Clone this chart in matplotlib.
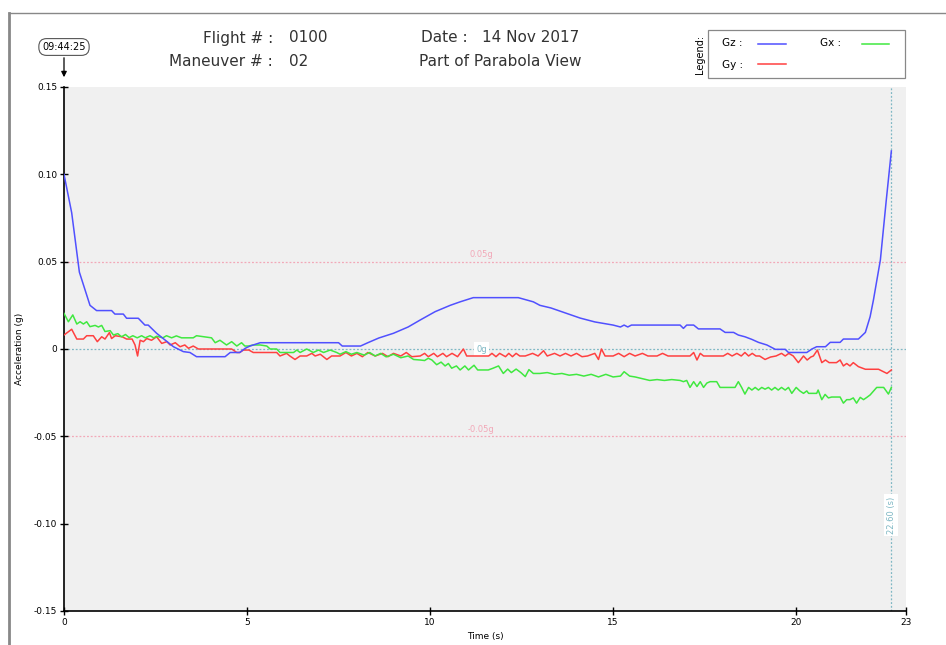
import matplotlib
matplotlib.use("Agg")
import matplotlib.pyplot as plt
from matplotlib.lines import Line2D
from matplotlib.patches import Rectangle

# --- data ------------------------------------------------------------------
gz_t = [0, 0.21, 0.42, 0.71, 0.89, 1.30, 1.39, 1.62, 1.71, 2.03, 2.21, 2.30, 2.53, 2.99,
        3.26, 3.44, 3.62, 4.40, 4.54, 4.80, 4.95, 5.08, 5.36, 7.50, 7.60, 8.10, 8.30, 8.60,
        9.00, 9.40, 9.73, 10.14, 10.55, 10.82, 11.18, 12.41, 12.82, 13.00, 13.30, 13.70,
        14.10, 14.50, 15.00, 15.20, 15.30, 15.40, 15.50, 15.70, 16.83, 16.92, 17.01, 17.20,
        17.33, 17.92, 18.06, 18.29, 18.42, 18.60, 18.79, 18.97, 19.20, 19.43, 19.70, 19.79,
        20.29, 20.43, 20.56, 20.80, 20.93, 21.20, 21.29, 21.70, 21.89, 22.02, 22.11, 22.30,
        22.46, 22.60]
gz_v = [0.100, 0.078, 0.044, 0.025, 0.022, 0.022, 0.020, 0.020, 0.0176, 0.0176, 0.0137,
        0.0137, 0.009, 0.0013, -0.0015, -0.002, -0.0044, -0.0044, -0.002, -0.002, 0.0004,
        0.0017, 0.0036, 0.0036, 0.0017, 0.0017, 0.0036, 0.0063, 0.009, 0.0126, 0.0166,
        0.0214, 0.025, 0.027, 0.0294, 0.0294, 0.027, 0.025, 0.0235, 0.0206, 0.0177, 0.0155,
        0.0137, 0.0126, 0.0137, 0.0126, 0.0137, 0.0137, 0.0137, 0.0118, 0.0137, 0.0137,
        0.0115, 0.0115, 0.0095, 0.0095, 0.008, 0.007, 0.0055, 0.0038, 0.0023, -0.0002,
        -0.0002, -0.002, -0.002, 0.0, 0.0013, 0.0013, 0.0038, 0.0038, 0.0057, 0.0057,
        0.0095, 0.0185, 0.028, 0.051, 0.085, 0.1134]

gy_t = [0, 0.21, 0.35, 0.53, 0.62, 0.80, 0.91, 1.03, 1.12, 1.24, 1.30, 1.40, 1.59, 1.71,
        1.86, 1.94, 2.01, 2.08, 2.17, 2.26, 2.39, 2.53, 2.67, 2.81, 2.90, 3.04, 3.17, 3.30,
        3.40, 3.53, 3.67, 4.58, 4.72, 4.80, 4.90, 5.05, 5.17, 5.81, 5.90, 6.08, 6.17, 6.31,
        6.45, 6.63, 6.77, 6.86, 7.00, 7.18, 7.31, 7.54, 7.70, 7.85, 8.00, 8.15, 8.30, 8.50,
        8.70, 8.85, 9.00, 9.20, 9.35, 9.50, 9.73, 9.85, 9.95, 10.10, 10.20, 10.35, 10.45,
        10.60, 10.75, 10.91, 11.00, 11.60, 11.69, 11.80, 11.90, 12.06, 12.15, 12.25, 12.35,
        12.45, 12.60, 12.80, 12.95, 13.10, 13.20, 13.40, 13.55, 13.70, 13.85, 14.00, 14.15,
        14.30, 14.50, 14.60, 14.68, 14.78, 15.00, 15.15, 15.30, 15.45, 15.60, 15.80, 15.95,
        16.20, 16.35, 16.50, 16.83, 17.10, 17.20, 17.29, 17.38, 17.47, 18.01, 18.13, 18.25,
        18.38, 18.50, 18.60, 18.70, 18.80, 18.90, 19.00, 19.15, 19.30, 19.45, 19.60, 19.70,
        19.80, 19.92, 20.06, 20.20, 20.30, 20.40, 20.47, 20.58, 20.70, 20.80, 20.90, 21.10,
        21.20, 21.29, 21.38, 21.47, 21.56, 21.70, 21.89, 22.25, 22.48, 22.60]
gy_v = [0.008, 0.0113, 0.0057, 0.0057, 0.0076, 0.0076, 0.0042, 0.007, 0.0057, 0.0094,
        0.006, 0.0076, 0.007, 0.0057, 0.0057, 0.0023, -0.004, 0.005, 0.0042, 0.006, 0.005,
        0.007, 0.0032, 0.0042, 0.0023, 0.0036, 0.0013, 0.0023, 0.0004, 0.0017, 0.0, 0.0,
        -0.002, -0.002, -0.0006, -0.0006, -0.002, -0.002, -0.004, -0.0025, -0.004, -0.006,
        -0.004, -0.004, -0.0025, -0.004, -0.003, -0.006, -0.004, -0.004, -0.002, -0.004,
        -0.0025, -0.0044, -0.002, -0.004, -0.0025, -0.0044, -0.0025, -0.004, -0.002,
        -0.0044, -0.004, -0.0025, -0.0044, -0.0025, -0.0044, -0.0025, -0.0044, -0.0025,
        -0.0044, 0.0, -0.004, -0.004, -0.0025, -0.0044, -0.0025, -0.0044, -0.0025, -0.0044,
        -0.0025, -0.004, -0.004, -0.0025, -0.004, -0.001, -0.004, -0.0025, -0.004, -0.0025,
        -0.004, -0.0025, -0.0044, -0.004, -0.0025, -0.006, 0.0, -0.004, -0.004, -0.0025,
        -0.0044, -0.0025, -0.004, -0.0025, -0.004, -0.004, -0.0025, -0.004, -0.004, -0.004,
        -0.002, -0.0063, -0.0025, -0.004, -0.004, -0.0025, -0.004, -0.0025, -0.004, -0.002,
        -0.004, -0.0025, -0.004, -0.004, -0.006, -0.0046, -0.004, -0.0025, -0.004, -0.0025,
        -0.004, -0.0078, -0.004, -0.0063, -0.0046, -0.004, -0.0006, -0.0078, -0.0063,
        -0.0078, -0.0078, -0.0063, -0.0097, -0.0083, -0.0097, -0.0078, -0.0101, -0.0116,
        -0.0116, -0.014, -0.012]

gx_t = [0, 0.12, 0.24, 0.35, 0.44, 0.53, 0.62, 0.71, 0.85, 0.94, 1.03, 1.12, 1.26, 1.35,
        1.47, 1.57, 1.68, 1.78, 1.88, 2.00, 2.12, 2.22, 2.35, 2.45, 2.53, 2.70, 2.80, 2.94,
        3.07, 3.21, 3.53, 3.62, 4.03, 4.13, 4.26, 4.44, 4.58, 4.72, 4.85, 4.94, 5.04, 5.17,
        5.36, 5.54, 5.63, 5.81, 5.90, 6.27, 6.36, 6.45, 6.63, 6.81, 6.95, 7.09, 7.27, 7.45,
        7.54, 7.70, 7.85, 8.00, 8.20, 8.35, 8.50, 8.65, 8.80, 9.00, 9.20, 9.40, 9.55, 9.73,
        9.85, 9.95, 10.05, 10.18, 10.30, 10.41, 10.50, 10.59, 10.72, 10.82, 10.95, 11.05,
        11.20, 11.30, 11.45, 11.59, 11.72, 11.87, 12.00, 12.12, 12.22, 12.35, 12.48, 12.60,
        12.70, 12.82, 13.00, 13.20, 13.40, 13.60, 13.80, 14.00, 14.20, 14.40, 14.60, 14.80,
        15.00, 15.20, 15.30, 15.45, 15.60, 15.80, 16.00, 16.20, 16.40, 16.60, 16.83, 16.92,
        17.01, 17.10, 17.20, 17.29, 17.38, 17.47, 17.56, 17.65, 17.83, 17.92, 18.33, 18.42,
        18.51, 18.60, 18.70, 18.79, 18.88, 18.97, 19.06, 19.15, 19.24, 19.33, 19.42, 19.51,
        19.60, 19.70, 19.79, 19.88, 20.00, 20.10, 20.20, 20.29, 20.34, 20.56, 20.60, 20.70,
        20.79, 20.88, 20.97, 21.20, 21.29, 21.38, 21.47, 21.56, 21.65, 21.75, 21.84, 21.93,
        22.02, 22.20, 22.39, 22.52, 22.60]
gx_v = [0.0204, 0.0156, 0.0195, 0.0143, 0.0156, 0.0143, 0.0156, 0.0128, 0.0135, 0.0126,
        0.0135, 0.010, 0.0105, 0.008, 0.0088, 0.007, 0.0083, 0.0065, 0.0076, 0.0064, 0.0076,
        0.0064, 0.0076, 0.0064, 0.0073, 0.0064, 0.0076, 0.0064, 0.0075, 0.0064, 0.0064,
        0.0076, 0.0064, 0.0036, 0.005, 0.0023, 0.0042, 0.0017, 0.0036, 0.0017, 0.0017,
        0.0023, 0.0023, 0.0017, 0.0, 0.0, -0.002, -0.002, -0.0006, -0.002, 0.0, -0.002,
        -0.0006, -0.002, -0.0006, -0.002, -0.003, -0.0015, -0.003, -0.002, -0.0035, -0.002,
        -0.004, -0.0025, -0.0045, -0.003, -0.005, -0.004, -0.006, -0.0063, -0.0066, -0.0053,
        -0.0063, -0.009, -0.0075, -0.0097, -0.0083, -0.011, -0.0097, -0.012, -0.0097, -0.012,
        -0.0093, -0.012, -0.012, -0.012, -0.011, -0.0097, -0.014, -0.0115, -0.0135, -0.0115,
        -0.0135, -0.0158, -0.0118, -0.014, -0.014, -0.0135, -0.0145, -0.014, -0.015, -0.0145,
        -0.0155, -0.0145, -0.016, -0.0145, -0.016, -0.0155, -0.013, -0.0155, -0.016, -0.017,
        -0.018, -0.0175, -0.018, -0.0175, -0.018, -0.0187, -0.018, -0.022, -0.0187, -0.0215,
        -0.0187, -0.022, -0.0195, -0.0187, -0.0187, -0.022, -0.022, -0.0187, -0.022, -0.0258,
        -0.022, -0.0235, -0.022, -0.0235, -0.022, -0.023, -0.022, -0.0235, -0.022, -0.0235,
        -0.022, -0.0235, -0.022, -0.0254, -0.022, -0.024, -0.0254, -0.024, -0.0254, -0.0254,
        -0.0235, -0.029, -0.026, -0.028, -0.0275, -0.0275, -0.031, -0.029, -0.029, -0.028,
        -0.031, -0.0277, -0.029, -0.0277, -0.0263, -0.022, -0.022, -0.0258, -0.022]

y_ticks = [-0.15, -0.10, -0.05, 0, 0.05, 0.10, 0.15]
y_tick_labels = ["-0.15", "-0.10", "-0.05", "0", "0.05", "0.10", "0.15"]
x_ticks = [0, 5, 10, 15, 20, 23]
ref_levels = [0.05, 0, -0.05]
ref_labels = ["0.05g", "0g", "-0.05g"]
end_time = 22.60

C_GZ = "#5050ff"
C_GY = "#ff4040"
C_GX = "#40e840"
C_PINK = "#f2a8b8"
C_TEAL = "#7fb8c4"


def fx(px):
    return px / 946.0


def fy(py):
    return 1 - py / 645.0


def main():
    fig = plt.figure(figsize=(9.46, 6.45), dpi=100)
    fig.patch.set_facecolor("white")

    ax = fig.add_axes([fx(64), fy(611), fx(906) - fx(64), fy(87) - fy(611)])
    ax.set_facecolor("#f0f0f0")
    ax.set_xlim(0, 23)
    ax.set_ylim(-0.15, 0.15)

    for side in ("top", "right"):
        ax.spines[side].set_visible(False)
    for side in ("left", "bottom"):
        ax.spines[side].set_linewidth(1.2)

    ax.set_yticks(y_ticks)
    ax.set_yticklabels(y_tick_labels)
    ax.set_xticks(x_ticks)
    ax.tick_params(direction="inout", length=6, width=1, labelsize=6.5, pad=2)

    ax.set_ylabel("Acceleration (g)", fontsize=6.5, labelpad=7)
    ax.set_xlabel("Time (s)", fontsize=6.5, labelpad=4)

    # reference lines
    for lvl, lab in zip(ref_levels, ref_labels):
        col = C_TEAL if lvl == 0 else C_PINK
        ax.axhline(lvl, color=col, lw=0.9, ls=(0, (1.5, 1.5)), zorder=1)
        if lvl == 0:
            ax.text(11.4, lvl, lab, color=C_TEAL, fontsize=6, ha="center", va="center",
                    bbox=dict(boxstyle="square,pad=0.25", fc="white", ec="none"), zorder=2)
        else:
            ax.text(11.4, lvl + 0.0015, lab, color=C_PINK, fontsize=6, ha="center", va="bottom",
                    zorder=2)

    ax.axvline(end_time, color=C_TEAL, lw=0.9, ls=(0, (1.5, 1.5)), zorder=1)
    ax.text(end_time, -0.095, "%.2f (s)" % end_time, color=C_TEAL, fontsize=6,
            rotation=90, ha="center", va="center",
            bbox=dict(boxstyle="square,pad=0.3", fc="white", ec="none"), zorder=2)

    ax.plot(gy_t, gy_v, color=C_GY, lw=1.1, zorder=3)
    ax.plot(gx_t, gx_v, color=C_GX, lw=1.1, zorder=3)
    ax.plot(gz_t, gz_v, color=C_GZ, lw=1.1, zorder=4)

    # time stamp with arrow
    fig.text(fx(64), fy(47), "09:44:25", fontsize=7, ha="center", va="center",
             bbox=dict(boxstyle="round,pad=0.35,rounding_size=0.8", fc="white", ec="#555555", lw=0.8))
    ax.annotate("", xy=(fx(64), fy(80)), xycoords="figure fraction",
                xytext=(fx(64), fy(55)), textcoords="figure fraction",
                arrowprops=dict(arrowstyle="-|>", color="black", lw=0.9, mutation_scale=8))

    # header
    hdr = dict(fontsize=11, color="#333333", va="center")
    fig.text(fx(273), fy(38), "Flight # :", ha="right", **hdr)
    fig.text(fx(289), fy(38), "0100", ha="left", **hdr)
    fig.text(fx(273), fy(62), "Maneuver # :", ha="right", **hdr)
    fig.text(fx(289), fy(62), "02", ha="left", **hdr)
    fig.text(fx(468), fy(38), "Date :", ha="right", **hdr)
    fig.text(fx(482), fy(38), "14 Nov 2017", ha="left", **hdr)
    fig.text(fx(500), fy(61), "Part of Parabola View", ha="center", **hdr)

    # legend box
    fig.patches.append(Rectangle((fx(708), fy(78)), fx(905) - fx(708), fy(30) - fy(78),
                                 transform=fig.transFigure, fc="white", ec="#888888", lw=0.9))
    fig.text(fx(700), fy(54), "Legend:", rotation=90, fontsize=7, ha="center", va="center")
    lg = dict(fontsize=7.5, ha="left", va="center")
    fig.text(fx(722), fy(43), "Gz :", **lg)
    fig.text(fx(722), fy(65), "Gy :", **lg)
    fig.text(fx(820), fy(43), "Gx :", **lg)
    for x0, x1, yy, col in [(758, 786, 44, C_GZ), (758, 786, 64, C_GY), (862, 889, 44, C_GX)]:
        fig.add_artist(Line2D([fx(x0), fx(x1)], [fy(yy), fy(yy)], color=col, lw=1.1))

    # outer frame
    fig.add_artist(Line2D([fx(9), fx(9)], [0, fy(13)], color="#888888", lw=2))
    fig.add_artist(Line2D([fx(9), 1], [fy(13), fy(13)], color="#888888", lw=1))

    fig.savefig("out.png", dpi=100)


if __name__ == "__main__":
    main()
